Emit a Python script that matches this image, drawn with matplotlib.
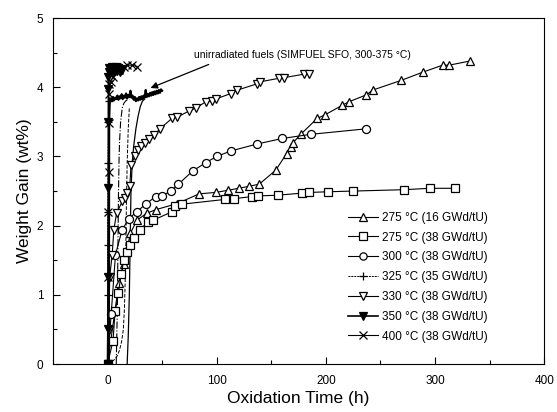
import matplotlib
matplotlib.use("Agg")
import matplotlib.pyplot as plt
from matplotlib.ticker import MultipleLocator

plt.rcParams['font.family'] = ['Liberation Sans', 'DejaVu Sans']

# ---- data ----
t275_16 = [0, 10.4, 15, 21, 27, 36, 44, 64, 84, 99, 110, 120, 130, 139, 154, 164, 168, 170,
           177, 192, 199, 215, 221, 237, 243, 269, 289, 307, 313, 332]
w275_16 = [0, 1.17, 1.45, 1.89, 2.08, 2.18, 2.23, 2.32, 2.46, 2.48, 2.51, 2.54, 2.57, 2.60, 2.80,
           3.04, 3.14, 3.20, 3.32, 3.55, 3.60, 3.74, 3.79, 3.89, 3.96, 4.10, 4.22, 4.32, 4.32, 4.38]

t275_38 = [0, 5, 7, 10, 12.5, 15, 18, 21, 24, 30, 37, 42, 59, 62, 68, 108, 116, 132, 138, 156,
           178, 185, 202, 225, 272, 295, 318]
w275_38 = [0, 0.33, 0.76, 1.03, 1.30, 1.50, 1.62, 1.72, 1.82, 1.94, 2.06, 2.08, 2.20, 2.28, 2.31,
           2.38, 2.39, 2.42, 2.43, 2.44, 2.47, 2.48, 2.49, 2.50, 2.52, 2.54, 2.54]

t300 = [0, 3.4, 7.3, 13.4, 19.6, 26.6, 35, 44, 50, 58, 65, 78, 90, 100, 113, 137, 160, 186, 237]
w300 = [0, 0.73, 1.58, 1.94, 2.10, 2.20, 2.31, 2.42, 2.43, 2.50, 2.60, 2.79, 2.91, 3.00, 3.08,
        3.18, 3.26, 3.32, 3.40]

t325 = [0, 0.1, 0.2, 0.3, 0.5, 0.8, 1.5]
w325 = [0, 1.0, 1.72, 2.2, 2.9, 3.5, 3.8]

t330 = [0, 1.2, 2, 4.3, 5.8, 8.3, 13.5, 15.6, 18, 20.5, 21.5, 25, 28, 31, 34, 38, 43, 48, 59, 64,
        75, 81, 90, 96, 99, 113, 119, 137, 140, 157, 162, 180, 185]
w330 = [0, 0.49, 1.26, 1.58, 1.94, 2.18, 2.35, 2.40, 2.47, 2.58, 2.88, 3.00, 3.09, 3.15, 3.20,
        3.25, 3.31, 3.40, 3.55, 3.57, 3.66, 3.70, 3.79, 3.80, 3.83, 3.91, 3.96, 4.05, 4.08, 4.13,
        4.14, 4.19, 4.19]

t350 = [0, 0.3, 0.6, 0.8, 0.8, 0.8, 0.9, 1.0, 1.5, 2, 3, 4, 5, 6, 7, 8, 9, 10, 11, 12, 13]
w350 = [0, 0.5, 1.26, 2.55, 3.5, 3.97, 4.15, 4.22, 4.28, 4.20, 4.25, 4.30, 4.22, 4.27, 4.23, 4.29,
        4.24, 4.28, 4.22, 4.26, 4.25]

t400 = [0, 0.6, 0.8, 1.0, 1.0, 1.2, 1.2, 2.8, 5, 10.4, 15, 18, 22.6, 27]
w400 = [0, 1.26, 2.20, 2.78, 3.49, 3.90, 4.05, 4.08, 4.15, 4.25, 4.30, 4.32, 4.32, 4.30]

# unirradiated SIMFUEL curves
sf_plat_t = [1.2, 1.5, 2, 3, 4, 5, 6, 7, 8, 9, 10, 11, 12, 13, 14, 15, 16, 17, 18, 19, 20, 21, 22,
             23, 24, 25, 26, 27, 28, 29, 30, 31, 32, 33, 34, 35, 36, 37, 38, 39, 40, 41, 42, 43,
             44, 45, 46, 47, 48, 49, 50]
sf_plat_w = [0, 3.5, 3.78, 3.84, 3.80, 3.86, 3.81, 3.85, 3.83, 3.88, 3.82, 3.87, 3.84, 3.90, 3.83,
             3.88, 3.85, 3.91, 3.84, 3.89, 3.86, 3.95, 3.85, 3.88, 3.82, 3.86, 3.80, 3.84, 3.81,
             3.86, 3.82, 3.87, 3.83, 3.88, 3.85, 3.96, 3.86, 3.90, 3.87, 3.92, 3.88, 3.93, 3.89,
             3.94, 3.90, 3.95, 3.91, 3.96, 3.92, 3.97, 3.95]
sf2_t = [8, 9, 9.5, 10, 10.5, 11, 12, 13.5, 15, 16.5, 18, 20]
sf2_w = [0, 0.8, 1.6, 2.4, 2.9, 3.2, 3.5, 3.7, 3.77, 3.80, 3.82, 3.83]
sf3_t = [18, 19, 20, 20.8, 21.5, 22.6, 24, 26, 28, 30, 32, 34]
sf3_w = [0, 0.4, 1.0, 1.8, 2.5, 2.9, 3.15, 3.4, 3.58, 3.72, 3.80, 3.83]
sf4_t = [0, 3, 6, 9, 11, 13, 14.5, 15.5, 16.2, 16.8, 17.3, 18, 19, 20]
sf4_w = [0, 0.02, 0.06, 0.12, 0.2, 0.33, 0.5, 0.8, 1.2, 1.7, 2.3, 2.9, 3.4, 3.7]

labels = ["275 °C (16 GWd/tU)", "275 °C (38 GWd/tU)", "300 °C (38 GWd/tU)",
          "325 °C (35 GWd/tU)", "330 °C (38 GWd/tU)", "350 °C (38 GWd/tU)",
          "400 °C (38 GWd/tU)"]

fig = plt.figure(figsize=(5.57, 4.12), dpi=100)
ax = fig.add_axes([0.095, 0.1165, 0.882, 0.8395])

lw = 0.8
ms = 5.8
# unirradiated curves
ax.plot(sf_plat_t, sf_plat_w, color='black', lw=1.6, zorder=2)
ax.plot(sf2_t, sf2_w, color='black', lw=0.8, ls='-.', zorder=2)
ax.plot(sf3_t, sf3_w, color='black', lw=0.9, zorder=2)
ax.plot(sf4_t, sf4_w, color='black', lw=0.7, ls='--', zorder=2)

h1, = ax.plot(t275_16, w275_16, color='black', lw=lw, marker='^', ms=ms, mfc='white', mec='black', mew=0.9)
h2, = ax.plot(t275_38, w275_38, color='black', lw=lw, marker='s', ms=ms, mfc='white', mec='black', mew=0.9)
h3, = ax.plot(t300, w300, color='black', lw=lw, marker='o', ms=ms, mfc='white', mec='black', mew=0.9)
h4, = ax.plot(t325, w325, color='black', lw=0.7, ls=(0, (2, 1)), marker='+', ms=ms, mec='black', mew=0.9)
h5, = ax.plot(t330, w330, color='black', lw=lw, marker='v', ms=ms, mfc='white', mec='black', mew=0.9)
h6, = ax.plot(t350, w350, color='black', lw=1.2, marker='v', ms=ms, mfc='black', mec='black', mew=0.9)
h7, = ax.plot(t400, w400, color='black', lw=lw, marker='x', ms=ms, mec='black', mew=0.9)

ax.set_xlim(-50, 400)
ax.set_ylim(0, 5)
ax.xaxis.set_major_locator(MultipleLocator(100))
ax.xaxis.set_minor_locator(MultipleLocator(50))
ax.yaxis.set_major_locator(MultipleLocator(1))
ax.yaxis.set_minor_locator(MultipleLocator(0.5))
ax.tick_params(which='both', direction='in', top=False, right=False, labelsize=8.5, width=0.8)
ax.tick_params(which='major', length=5)
ax.tick_params(which='minor', length=3)
ax.tick_params(axis='x', which='major', pad=8)
ax.tick_params(axis='y', which='major', pad=7)
for s in ax.spines.values():
    s.set_linewidth(0.8)

ax.set_xlabel("Oxidation Time (h)", fontsize=12.5, labelpad=3)
ax.set_ylabel("Weight Gain (wt%)", fontsize=12.5, labelpad=3)

ax.text(78.9, 4.47, "unirradiated fuels (SIMFUEL SFO, 300-375 °C)", fontsize=7.5,
        ha='left', va='center')
ax.annotate("", xy=(39.4, 3.99), xytext=(92.7, 4.33),
            arrowprops=dict(arrowstyle='-|>', color='black', lw=0.9, mutation_scale=10,
                            shrinkA=0, shrinkB=0))

leg = ax.legend([h1, h2, h3, h4, h5, h6, h7], labels, loc='center left',
                bbox_to_anchor=(0.601, 0.251), frameon=False, fontsize=8.5,
                handlelength=2.5, handletextpad=0.35, labelspacing=0.66,
                borderpad=0, borderaxespad=0, markerscale=0.9)

fig.savefig("out.png", dpi=100)
